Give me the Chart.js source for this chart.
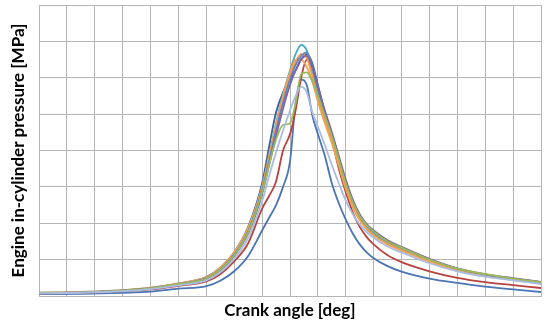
<!DOCTYPE html>
<html lang="en">
<head>
    <meta charset="UTF-8">
    <title>Engine in-cylinder pressure</title>
    <script src="https://cdn.jsdelivr.net/npm/chart.js"></script>
    <style>
        html, body { margin: 0; padding: 0; background: #fff; }
        canvas { display: block; }
    </style>
</head>
<body>
    <canvas id="pressureChart" width="554" height="329"></canvas>

    <script>
        // crank angle samples [deg]
        const crankAngle = [-180, -150, -120, -100, -80, -60, -50, -40, -30, -20, -15, -10, -5, 0, 4, 8, 12,
                            16, 20, 25, 30, 35, 40, 45, 50, 55, 60, 70, 80, 100, 120, 140, 160, 180];

        // in-cylinder pressure [MPa], one array per run
        const runBlue = [0.05, 0.06, 0.09, 0.12, 0.20, 0.27, 0.42, 0.68, 1.10, 1.80, 2.15, 2.50, 3.00, 3.70, 5.30, 5.95, 5.80,
                         4.97, 4.45, 3.85, 3.10, 2.55, 2.10, 1.72, 1.42, 1.20, 1.04, 0.82, 0.67, 0.48, 0.36, 0.26, 0.18, 0.11];
        const runRed = [0.07, 0.09, 0.13, 0.18, 0.28, 0.40, 0.60, 0.95, 1.45, 2.40, 2.75, 3.15, 4.00, 4.45, 5.10, 6.00, 6.50,
                        6.20, 5.60, 4.95, 4.30, 3.50, 2.85, 2.30, 1.90, 1.62, 1.42, 1.12, 0.93, 0.68, 0.50, 0.38, 0.30, 0.22];
        const runGreen = [0.08, 0.10, 0.15, 0.21, 0.33, 0.48, 0.72, 1.12, 1.75, 2.85, 3.60, 4.30, 4.70, 4.75, 5.30, 6.10, 6.15,
                          5.90, 5.50, 4.95, 4.40, 3.75, 3.10, 2.58, 2.20, 1.95, 1.77, 1.50, 1.33, 1.00, 0.75, 0.60, 0.48, 0.38];
        const runPurple = [0.08, 0.10, 0.15, 0.21, 0.32, 0.47, 0.70, 1.10, 1.72, 2.80, 3.60, 4.40, 5.15, 5.80, 6.20, 6.50, 6.60,
                           6.30, 5.75, 5.10, 4.50, 3.85, 3.20, 2.65, 2.25, 1.98, 1.80, 1.53, 1.35, 1.02, 0.76, 0.60, 0.49, 0.39];
        const runCyan = [0.09, 0.11, 0.16, 0.22, 0.34, 0.50, 0.76, 1.18, 1.85, 3.00, 3.85, 4.75, 5.55, 6.20, 6.65, 6.90, 6.75,
                         6.20, 5.55, 4.90, 4.32, 3.68, 3.02, 2.52, 2.14, 1.90, 1.72, 1.47, 1.30, 0.99, 0.74, 0.58, 0.47, 0.37];
        const runOrange = [0.08, 0.10, 0.15, 0.21, 0.33, 0.49, 0.74, 1.15, 1.80, 2.92, 3.75, 4.62, 5.40, 6.05, 6.45, 6.65, 6.55,
                           6.05, 5.45, 4.85, 4.30, 3.65, 3.00, 2.48, 2.10, 1.86, 1.68, 1.43, 1.26, 0.95, 0.70, 0.55, 0.44, 0.34];
        const runNavy = [0.08, 0.10, 0.15, 0.22, 0.34, 0.52, 0.78, 1.20, 1.90, 3.10, 4.10, 5.05, 5.60, 5.95, 6.20, 6.50, 6.65,
                         6.40, 5.80, 5.05, 4.42, 3.75, 3.08, 2.55, 2.15, 1.90, 1.72, 1.46, 1.30, 0.98, 0.73, 0.57, 0.46, 0.36];
        const runLightBlue = [0.07, 0.09, 0.13, 0.19, 0.29, 0.43, 0.65, 1.02, 1.60, 2.60, 3.30, 3.95, 4.55, 5.10, 5.50, 5.75, 5.60,
                              5.05, 4.65, 4.15, 3.60, 3.10, 2.62, 2.25, 1.97, 1.76, 1.60, 1.36, 1.20, 0.90, 0.68, 0.53, 0.43, 0.33];
        const runOrange2 = [0.09, 0.11, 0.16, 0.23, 0.35, 0.52, 0.78, 1.20, 1.88, 3.00, 3.85, 4.70, 5.50, 6.15, 6.50, 6.50, 6.30,
                            5.90, 5.35, 4.75, 4.20, 3.58, 2.95, 2.45, 2.08, 1.84, 1.66, 1.42, 1.25, 0.95, 0.71, 0.55, 0.45, 0.35];
        const runSteel = [0.08, 0.10, 0.15, 0.21, 0.33, 0.49, 0.73, 1.14, 1.78, 2.90, 3.70, 4.55, 5.30, 5.95, 6.35, 6.60, 6.70,
                          6.35, 5.70, 5.00, 4.45, 3.80, 3.12, 2.60, 2.20, 1.94, 1.76, 1.50, 1.33, 1.01, 0.75, 0.59, 0.48, 0.38];

        const runs = [
            { values: runLightBlue, color: '#a9bde2' },
            { values: runGreen, color: '#9bbb59' },
            { values: runPurple, color: '#8064a2' },
            { values: runSteel, color: '#5b86c5' },
            { values: runOrange2, color: '#f4a155' },
            { values: runOrange, color: '#f79646' },
            { values: runCyan, color: '#4bacc6' },
            { values: runNavy, color: '#3b5e9c' },
            { values: runRed, color: '#b8423f' },
            { values: runBlue, color: '#4a74b4' }
        ];

        const gridColor = '#b5b5b5';
        const titleFont = { family: 'Lato', size: 17, weight: 'bold' };

        const ctx = document.getElementById('pressureChart').getContext('2d');
        const pressureChart = new Chart(ctx, {
            type: 'line',
            data: {
                datasets: runs.map(r => ({
                    data: crankAngle.map((deg, i) => ({ x: deg, y: r.values[i] })),
                    borderColor: r.color,
                    borderWidth: 1.8,
                    pointRadius: 0,
                    fill: false,
                    cubicInterpolationMode: 'monotone'
                }))
            },
            options: {
                responsive: false,
                animation: false,
                layout: {
                    padding: { top: 5, right: 13, left: 0, bottom: 0 }
                },
                scales: {
                    x: {
                        type: 'linear',
                        min: -180,
                        max: 180,
                        ticks: { stepSize: 20, display: false },
                        grid: { color: gridColor, drawTicks: false },
                        border: { color: gridColor },
                        title: {
                            display: true,
                            text: 'Crank angle [deg]',
                            color: '#000',
                            font: titleFont,
                            padding: { top: 0, bottom: 8 }
                        },
                        afterFit: scale => { scale.height = 33; }
                    },
                    y: {
                        min: 0,
                        max: 8,
                        ticks: { stepSize: 1, display: false },
                        grid: { color: gridColor, drawTicks: false },
                        border: { color: gridColor },
                        title: {
                            display: true,
                            text: 'Engine in-cylinder pressure [MPa]',
                            color: '#000',
                            font: titleFont,
                            padding: { top: 8, bottom: 0 }
                        },
                        afterFit: scale => { scale.width = 39; }
                    }
                },
                plugins: {
                    legend: { display: false },
                    tooltip: { enabled: false }
                }
            }
        });
    </script>
</body>
</html>
